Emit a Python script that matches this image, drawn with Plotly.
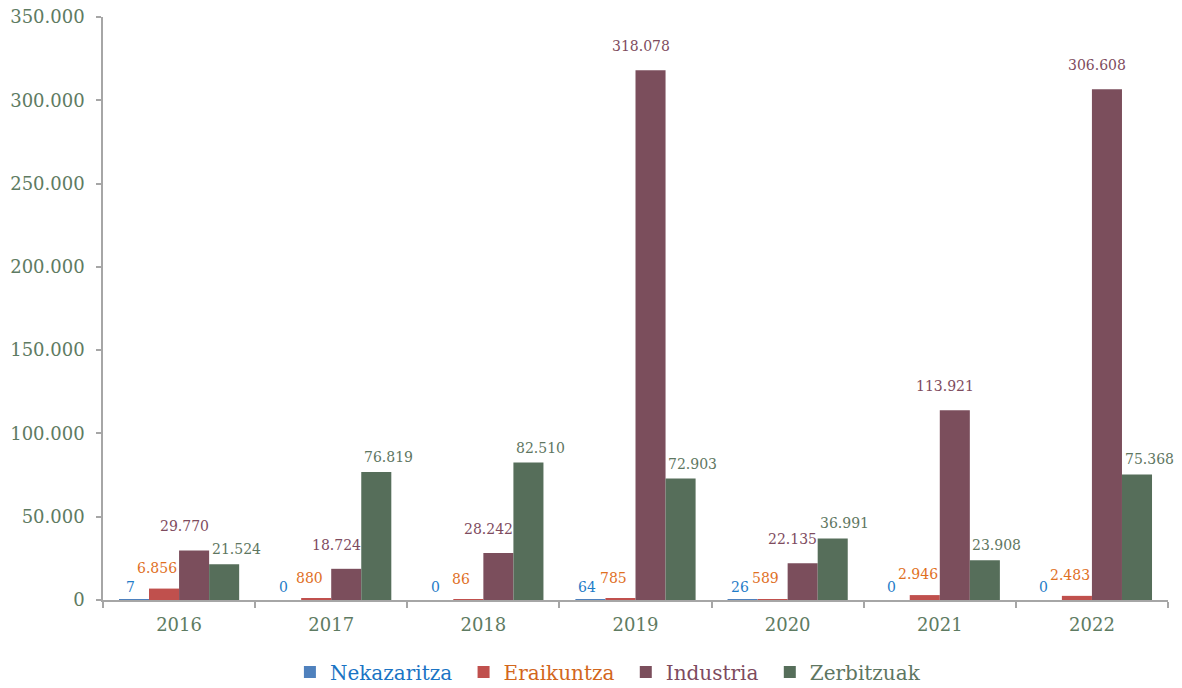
import plotly.graph_objects as go

years = ["2016", "2017", "2018", "2019", "2020", "2021", "2022"]
series_names = ["Nekazaritza", "Eraikuntza", "Industria", "Zerbitzuak"]
nekazaritza = [7, 0, 0, 64, 26, 0, 0]
eraikuntza = [6856, 880, 86, 785, 589, 2946, 2483]
industria = [29770, 18724, 28242, 318078, 22135, 113921, 306608]
zerbitzuak = [21524, 76819, 82510, 72903, 36991, 23908, 75368]
y_ticks = [0, 50000, 100000, 150000, 200000, 250000, 300000, 350000]
y_tick_labels = ["0", "50.000", "100.000", "150.000", "200.000", "250.000", "300.000", "350.000"]

bar_colors = ["#4F81BD", "#C0504D", "#7B4E5C", "#566E5A"]
text_colors = ["#1F7CC8", "#E0701F", "#7E4B5E", "#5E7661"]
legend_colors = ["#1A74C4", "#D2661C", "#7E4B5E", "#5E7661"]
label_dx = [-3, -7, -10, 12]   # label nudges (px) per series
label_dy = [13, 21, 24, 15]    # label height above bar top (px) per series
tick_color = "#5E7B62"
FONT = "DejaVu Serif"

# page body has an 8px margin, so size the figure to fit the 1182x688 window
W, H = 1174, 680
ML, MR, MT, MB = 95, 14, 9, 88
BARGAP = 0.21


def fmt(v):
    return f"{v:,}".replace(",", ".")


all_series = [nekazaritza, eraikuntza, industria, zerbitzuak]

fig = go.Figure()
for k, (name, vals, bc, lc) in enumerate(zip(series_names, all_series, bar_colors, legend_colors)):
    pad = "&nbsp;" if k < len(series_names) - 1 else ""
    fig.add_trace(go.Bar(
        x=years, y=vals,
        name=f'<span style="color:{lc}">{name}</span>{pad}',
        marker=dict(color=bc, line=dict(width=0)),
        hoverinfo="x+y",
    ))

# data labels (x given as category index)
cat_px = (W - ML - MR) / len(years)
bar_px = cat_px * (1 - BARGAP) / len(all_series)
annotations = []
for i, (vals, tc) in enumerate(zip(all_series, text_colors)):
    off = (i - (len(all_series) - 1) / 2) * bar_px + label_dx[i]
    for j, v in enumerate(vals):
        annotations.append(dict(
            x=j, y=v, xref="x", yref="y", text=fmt(v), showarrow=False,
            xshift=off, yshift=label_dy[i], yanchor="middle", xanchor="center",
            font=dict(family=FONT, size=14, color=tc),
        ))

fig.update_layout(
    width=W, height=H,
    margin=dict(l=ML, r=MR, t=MT, b=MB, autoexpand=False),
    paper_bgcolor="white", plot_bgcolor="white",
    barmode="group", bargap=BARGAP, bargroupgap=0,
    font=dict(family=FONT, color=tick_color),
    showlegend=True,
    legend=dict(
        orientation="h", x=0.511, xanchor="center", xref="container",
        y=0.0235, yanchor="middle", yref="container",
        font=dict(family=FONT, size=20),
        itemwidth=30, tracegroupgap=0,
    ),
    annotations=annotations,
    xaxis=dict(
        type="category", automargin=False, range=[-0.5, len(years) - 0.5],
        showline=True, linecolor="#A6A6A6", linewidth=1.5,
        ticks="outside", tickson="boundaries", ticklen=6, tickcolor="#A6A6A6", tickwidth=1.5,
        tickfont=dict(family=FONT, size=18, color=tick_color), ticklabelstandoff=8,
        showgrid=False, zeroline=False,
    ),
    yaxis=dict(
        range=[0, 350000], tickvals=y_ticks, ticktext=y_tick_labels, automargin=False,
        showline=True, linecolor="#A6A6A6", linewidth=1.5,
        ticks="outside", ticklen=5, tickcolor="#A6A6A6", tickwidth=1.5,
        tickfont=dict(family=FONT, size=18, color=tick_color), ticklabelstandoff=8,
        ticklabeloverflow="allow",
        showgrid=False, zeroline=False,
    ),
)

fig.write_html("out.html")
